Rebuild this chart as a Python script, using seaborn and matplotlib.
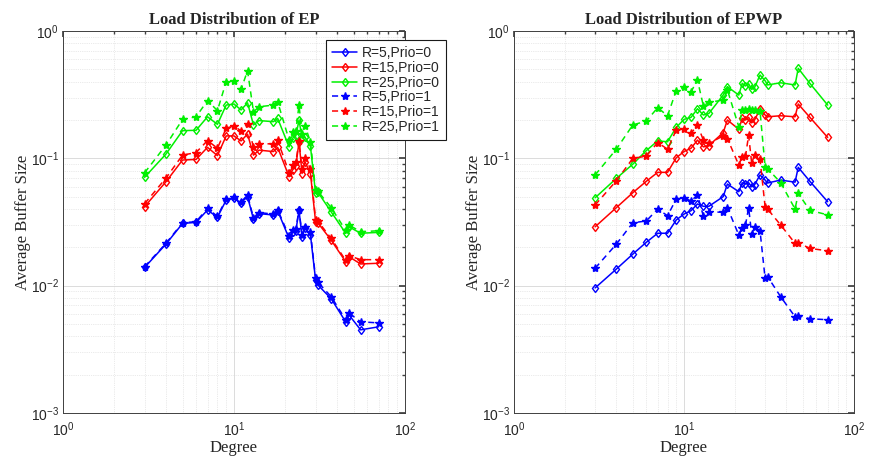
import numpy as np
import pandas as pd
import matplotlib
matplotlib.use("Agg")
import matplotlib.pyplot as plt
import seaborn as sns

# degrees (same for every series)
degree = [3, 4, 5, 6, 7, 8, 9, 10, 11, 12, 13, 14, 17, 18, 21, 22, 23, 24, 25, 26,
          28, 30, 31, 37, 45, 47, 55, 70]

# Load Distribution of EP
ep_r5_p0 = [0.0139, 0.0212, 0.0308, 0.0314, 0.0393, 0.0344, 0.047, 0.0485, 0.0448, 0.050,
            0.0332, 0.0368, 0.0359, 0.0388, 0.0235, 0.0265, 0.027, 0.039, 0.0242, 0.0282,
            0.025, 0.0111, 0.0101, 0.0079, 0.0052, 0.0059, 0.0045, 0.00475]
ep_r15_p0 = [0.0417, 0.0655, 0.097, 0.098, 0.122, 0.105, 0.150, 0.150, 0.137, 0.155,
             0.106, 0.116, 0.113, 0.122, 0.0717, 0.081, 0.087, 0.135, 0.076, 0.094,
             0.076, 0.0318, 0.031, 0.0228, 0.0154, 0.0169, 0.0148, 0.015]
ep_r25_p0 = [0.071, 0.108, 0.165, 0.166, 0.212, 0.185, 0.262, 0.267, 0.240, 0.273,
             0.183, 0.198, 0.194, 0.206, 0.123, 0.144, 0.150, 0.200, 0.144, 0.147,
             0.124, 0.053, 0.054, 0.038, 0.0258, 0.029, 0.0258, 0.0262]
ep_r5_p1 = [0.0141, 0.0215, 0.0312, 0.0318, 0.0405, 0.0350, 0.0482, 0.0495, 0.0455, 0.0515,
            0.0340, 0.0375, 0.0365, 0.0395, 0.0245, 0.0272, 0.0278, 0.0395, 0.0250, 0.0290,
            0.0262, 0.0115, 0.0106, 0.0082, 0.0054, 0.0061, 0.0052, 0.0051]
ep_r15_p1 = [0.044, 0.070, 0.106, 0.111, 0.138, 0.120, 0.172, 0.180, 0.164, 0.187,
             0.122, 0.130, 0.130, 0.139, 0.077, 0.088, 0.093, 0.137, 0.082, 0.100,
             0.083, 0.033, 0.032, 0.0235, 0.0158, 0.0172, 0.016, 0.016]
ep_r25_p1 = [0.077, 0.127, 0.202, 0.212, 0.284, 0.237, 0.400, 0.407, 0.348, 0.488,
             0.232, 0.254, 0.262, 0.278, 0.139, 0.160, 0.165, 0.262, 0.155, 0.180,
             0.135, 0.056, 0.055, 0.041, 0.0272, 0.030, 0.0265, 0.027]

# Load Distribution of EPWP
epwp_r5_p0 = [0.0096, 0.0135, 0.0177, 0.0219, 0.0258, 0.0258, 0.0328, 0.0365, 0.0388, 0.0438,
              0.042, 0.042, 0.050, 0.0628, 0.0547, 0.0643, 0.063, 0.0643, 0.0597, 0.062,
              0.074, 0.0675, 0.064, 0.0675, 0.065, 0.085, 0.066, 0.0456]
epwp_r15_p0 = [0.029, 0.041, 0.0537, 0.066, 0.0776, 0.0776, 0.101, 0.113, 0.120, 0.139,
               0.123, 0.126, 0.159, 0.200, 0.169, 0.206, 0.200, 0.210, 0.190, 0.200,
               0.243, 0.219, 0.212, 0.216, 0.212, 0.267, 0.210, 0.146]
epwp_r25_p0 = [0.049, 0.0696, 0.090, 0.115, 0.137, 0.135, 0.175, 0.202, 0.210, 0.245,
               0.219, 0.225, 0.314, 0.365, 0.314, 0.388, 0.370, 0.385, 0.348, 0.360,
               0.451, 0.407, 0.377, 0.392, 0.377, 0.509, 0.388, 0.262]
epwp_r5_p1 = [0.0137, 0.0212, 0.0312, 0.0322, 0.040, 0.0354, 0.0479, 0.049, 0.0462, 0.0515,
              0.0352, 0.038, 0.0377, 0.041, 0.025, 0.0282, 0.030, 0.041, 0.0254, 0.029,
              0.027, 0.0114, 0.0118, 0.0082, 0.0057, 0.0058, 0.0055, 0.0054]
epwp_r15_p1 = [0.043, 0.0667, 0.100, 0.104, 0.133, 0.118, 0.167, 0.170, 0.157, 0.183,
               0.139, 0.131, 0.150, 0.143, 0.0886, 0.103, 0.104, 0.152, 0.092, 0.106,
               0.098, 0.0417, 0.040, 0.030, 0.0215, 0.0218, 0.0196, 0.0188]
epwp_r25_p1 = [0.074, 0.118, 0.183, 0.196, 0.250, 0.216, 0.340, 0.360, 0.333, 0.412,
               0.258, 0.275, 0.287, 0.345, 0.177, 0.240, 0.240, 0.242, 0.240, 0.240,
               0.235, 0.086, 0.083, 0.0645, 0.040, 0.053, 0.039, 0.036]

labels = ["R=5,Prio=0", "R=15,Prio=0", "R=25,Prio=0",
          "R=5,Prio=1", "R=15,Prio=1", "R=25,Prio=1"]
colors = ["#0000ff", "#ff0000", "#00f000"] * 2

panels = {
    "Load Distribution of EP": [ep_r5_p0, ep_r15_p0, ep_r25_p0, ep_r5_p1, ep_r15_p1, ep_r25_p1],
    "Load Distribution of EPWP": [epwp_r5_p0, epwp_r15_p0, epwp_r25_p0,
                                  epwp_r5_p1, epwp_r15_p1, epwp_r25_p1],
}

sns.set_theme(style="white")
plt.rcParams["font.family"] = ["Liberation Sans", "DejaVu Sans"]
plt.rcParams["mathtext.default"] = "regular"

fig = plt.figure(figsize=(8.71, 4.62), dpi=100)
fig.set_facecolor("white")
ax_pos = [[63 / 871, 49 / 462, 342 / 871, 382 / 462],
          [514 / 871, 49 / 462, 340 / 871, 382 / 462]]

for k, (title, series) in enumerate(panels.items()):
    ax = fig.add_axes(ax_pos[k])
    for i, vals in enumerate(series):
        df = pd.DataFrame({"Degree": degree, "Buffer": vals})
        if i < 3:
            sns.lineplot(data=df, x="Degree", y="Buffer", ax=ax, color=colors[i],
                         marker="d", markersize=4.5, mfc="none", mec=colors[i], mew=1.0,
                         lw=1.1, label=labels[i], sort=False)
        else:
            sns.lineplot(data=df, x="Degree", y="Buffer", ax=ax, color=colors[i],
                         marker="*", markersize=6, mfc=colors[i], mec=colors[i], mew=1.0,
                         lw=1.1, dashes=(4, 3), label=labels[i], sort=False)
    ax.set_xscale("log")
    ax.set_yscale("log")
    ax.set_xlim(1, 100)
    ax.set_ylim(1e-3, 1)
    ax.grid(True, which="major", color="0.84", lw=0.6)
    ax.grid(True, which="minor", color="0.84", lw=0.5, ls=":")
    ax.set_axisbelow(True)
    ax.tick_params(which="both", direction="in", top=True, right=True,
                   labelsize=10, pad=3, color="0.25")
    ax.tick_params(axis="x", which="major", pad=5)
    ax.tick_params(which="major", length=4)
    ax.tick_params(which="minor", length=2)
    for s in ax.spines.values():
        s.set_color("0.25")
        s.set_linewidth(0.7)
    ax.set_title(title, family="Liberation Serif", fontweight="bold", fontsize=12, pad=5)
    ax.set_xlabel("Degree", family="Liberation Serif", fontsize=12, labelpad=1)
    ax.set_ylabel("Average Buffer Size", family="Liberation Serif", fontsize=12, labelpad=0)
    leg = ax.get_legend()
    if k == 0:
        h, l = ax.get_legend_handles_labels()
        leg.remove()
        ax.legend(h, l, loc="upper left", bbox_to_anchor=(326 / 871, 1 - 40 / 462),
                  bbox_transform=fig.transFigure, fontsize=10, frameon=True,
                  fancybox=False, framealpha=1, edgecolor="0.1", borderaxespad=0,
                  labelspacing=0.05, handlelength=1.8, handletextpad=0.35,
                  borderpad=0.45)
        ax.get_legend().get_frame().set_linewidth(0.8)
    else:
        leg.remove()

fig.savefig("out.png", dpi=100)
